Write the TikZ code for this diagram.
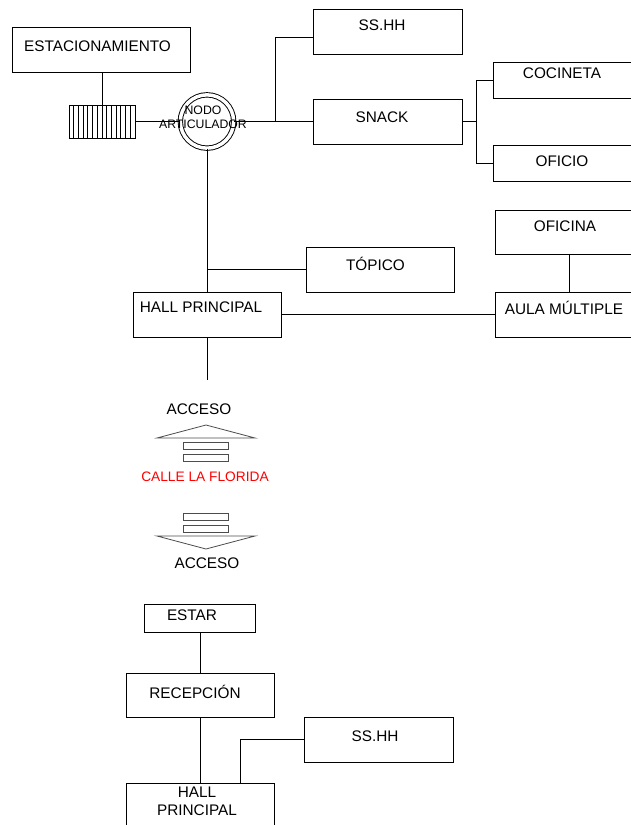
\documentclass[tikz,border=0pt]{standalone}
\usepackage{fontspec}
\setmainfont{Liberation Sans}
\usepackage{xcolor}
\usepackage{tikz}

\begin{document}
\begin{tikzpicture}[
    x=0.75pt, y=-0.75pt,
    line width=0.7pt,
    box/.style={rectangle, draw=black, inner sep=0pt, minimum width=111.75pt, minimum height=33.75pt},
    hub/.style={circle, draw=black, double, double distance=2.6pt, minimum size=40pt, inner sep=0pt},
    gate/.style={rectangle, draw=black, inner sep=0pt, minimum width=49.5pt, minimum height=24.75pt},
    txt/.style={inner sep=0pt, anchor=base, font=\fontsize{11.5}{13.5}\selectfont},
    acc/.style={draw=black!70, line width=0.6pt}
]
\useasboundingbox (0,0) rectangle (631,825);
\clip (0,0) rectangle (631,825);

\node[box, minimum width=133.5pt] (estac) at (101,49.5) {};
\node[gate] (peaje) at (102,121.5) {};
\node[hub] (nodo) at (207,121.5) {};
\node[box] (sshh) at (387.5,31.5) {};
\node[box] (snack) at (387.5,121.5) {};
\node[box, minimum height=27pt] (cocineta) at (567.5,80) {};
\node[box, minimum height=27pt] (oficio) at (567.5,163) {};
\node[box, minimum height=33pt] (oficina) at (569.5,232) {};
\node[box, minimum width=111pt] (topico) at (380,269.5) {};
\node[box, minimum width=111pt] (hall) at (207,314.5) {};
\node[box] (aula) at (569.5,314.5) {};
\node[box, minimum width=83.25pt, minimum height=21pt] (estar) at (200,618) {};
\node[box, minimum width=111pt, minimum height=33pt] (recep) at (200,695) {};
\node[box, minimum width=111pt] (hall2) at (200,805.5) {};
\node[box] (sshh2) at (378.5,739.5) {};

\foreach \x in {73.7,78.4,...,131} \draw[line width=0.5pt] (\x,105) -- (\x,138);

\node[txt] (estac-t) at (97.5,51.5) {ESTACIONAMIENTO};
\node[txt, align=center, anchor=north, font=\fontsize{9.2}{10.5}\selectfont] (nodo-t) at (203,105.6) {NODO\\ARTICULADOR};
\node[txt] (sshh-t) at (382,30.5) {SS.HH};
\node[txt] (snack-t) at (382,122.5) {SNACK};
\node[txt] (cocineta-t) at (562,78.5) {COCINETA};
\node[txt] (oficio-t) at (562,166.5) {OFICIO};
\node[txt] (oficina-t) at (565,231.5) {OFICINA};
\node[txt] (topico-t) at (375.5,270.5) {TÓPICO};
\node[txt] (hall-t) at (201,312.5) {HALL PRINCIPAL};
\node[txt] (aula-t) at (564,314.5) {AULA MÚLTIPLE};
\node[txt] (acceso1) at (199,414.5) {ACCESO};
\node[txt, text=red, font=\fontsize{10.3}{12}\selectfont] (calle) at (205,481.9) {CALLE LA FLORIDA};
\node[txt] (acceso2) at (207,568.5) {ACCESO};
\node[txt] (estar-t) at (192,620.5) {ESTAR};
\node[txt] (recep-t) at (195,698.5) {RECEPCIÓN};
\node[txt] (sshh2-t) at (375,741.5) {SS.HH};
\node[txt, align=center, anchor=north] (hall2-t) at (197,786.5) {HALL\\PRINCIPAL};

\coordinate (j1) at (275,121.5);
\coordinate (j2) at (476,121.5);
\coordinate (j3) at (207,269.5);
\coordinate (hallend) at (207,380);

\draw (peaje.north) -- (peaje.north |- estac.south);
\draw (peaje) -- (nodo);
\draw (nodo) -- (snack);
\draw (j1) |- ([yshift=-4.5pt]sshh.west);
\draw (snack) -- (j2);
\draw (j2) |- (cocineta.west);
\draw (j2) |- (oficio.west);
\draw (nodo) -- (hall);
\draw (j3) -- (topico.west);
\draw (hall) -- (aula);
\draw (oficina) -- (aula);
\draw (hall.south) -- (hallend);

\draw[acc] (157,438) -- (206,425) -- (255,438) -- cycle;
\draw[acc] (157,536) -- (255,536) -- (206,549) -- cycle;
\foreach \y in {442,454,513,525} \draw[acc] (183,\y) rectangle (228,\y+7.5);

\draw (estar) -- (recep);
\draw (recep) -- (hall2);
\draw ([xshift=30pt]hall2.north) |- (sshh2.west);
\end{tikzpicture}
\end{document}
